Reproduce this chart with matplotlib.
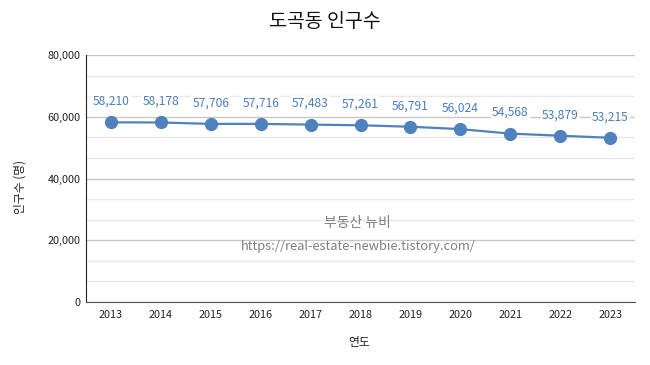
import matplotlib
matplotlib.use("Agg")
import matplotlib.pyplot as plt
import numpy as np
from matplotlib.ticker import FuncFormatter, MultipleLocator

plt.rcParams['font.family'] = ['Noto Sans CJK KR', 'DejaVu Sans']

years = ['2013', '2014', '2015', '2016', '2017', '2018', '2019', '2020', '2021', '2022', '2023']
population = [58210, 58178, 57706, 57716, 57483, 57261, 56791, 56024, 54568, 53879, 53215]
title = '도곡동 인구수'
xlabel = '연도'
ylabel = '인구수 (명)'
wm1 = '부동산 뉴비'
wm2 = 'https://real-estate-newbie.tistory.com/'

fig = plt.figure(figsize=(6.5, 3.65), dpi=100)
ax = fig.add_axes([0.1323, 0.1726, 0.8447, 0.6764])

x = np.arange(len(years))
line_color = '#4f81bd'
ax.plot(x, population, color=line_color, linewidth=1.6, marker='o', markersize=8.5, zorder=3)

for xi, v in zip(x, population):
    ax.annotate(f'{v:,}', (xi, v), xytext=(0, 10.5), textcoords='offset points',
                ha='center', va='bottom', fontsize=8.7, color='#4a7ebb',
                bbox=dict(boxstyle='square,pad=0.1', fc='white', ec='none'), zorder=4)

ax.set_xlim(-0.5, len(years) - 0.5)
ax.set_ylim(0, 80000)
ax.set_xticks(x)
ax.set_xticklabels(years)
ax.yaxis.set_major_locator(MultipleLocator(20000))
ax.yaxis.set_minor_locator(MultipleLocator(20000 / 3))
ax.yaxis.set_major_formatter(FuncFormatter(lambda v, p: f'{int(v):,}'))

ax.grid(axis='y', which='major', color='#c8c8c8', linewidth=1.0, zorder=0)
ax.grid(axis='y', which='minor', color='#e8e8e8', linewidth=1.0, zorder=0)
ax.set_axisbelow(True)

for s in ['top', 'right']:
    ax.spines[s].set_visible(False)
ax.spines['left'].set_color('#222222')
ax.spines['bottom'].set_color('#555555')
ax.tick_params(axis='both', which='both', length=0, labelsize=7.8, colors='#222222')
ax.tick_params(axis='x', pad=6)
ax.tick_params(axis='y', pad=4)

fig.text(0.5, 0.94, title, ha='center', va='center', fontsize=14, color='#111111')
fig.text(0.553, 0.063, xlabel, ha='center', va='center', fontsize=8.5, color='#222222')
fig.text(0.031, 0.488, ylabel, ha='center', va='center', fontsize=8.5, rotation=90, color='#222222')

fig.text(0.55, 0.39, wm1, ha='center', va='center', fontsize=10, color='#7f7f7f')
fig.text(0.551, 0.325, wm2, ha='center', va='center', fontsize=9.3, color='#7f7f7f')

fig.savefig('out.png', dpi=100)
